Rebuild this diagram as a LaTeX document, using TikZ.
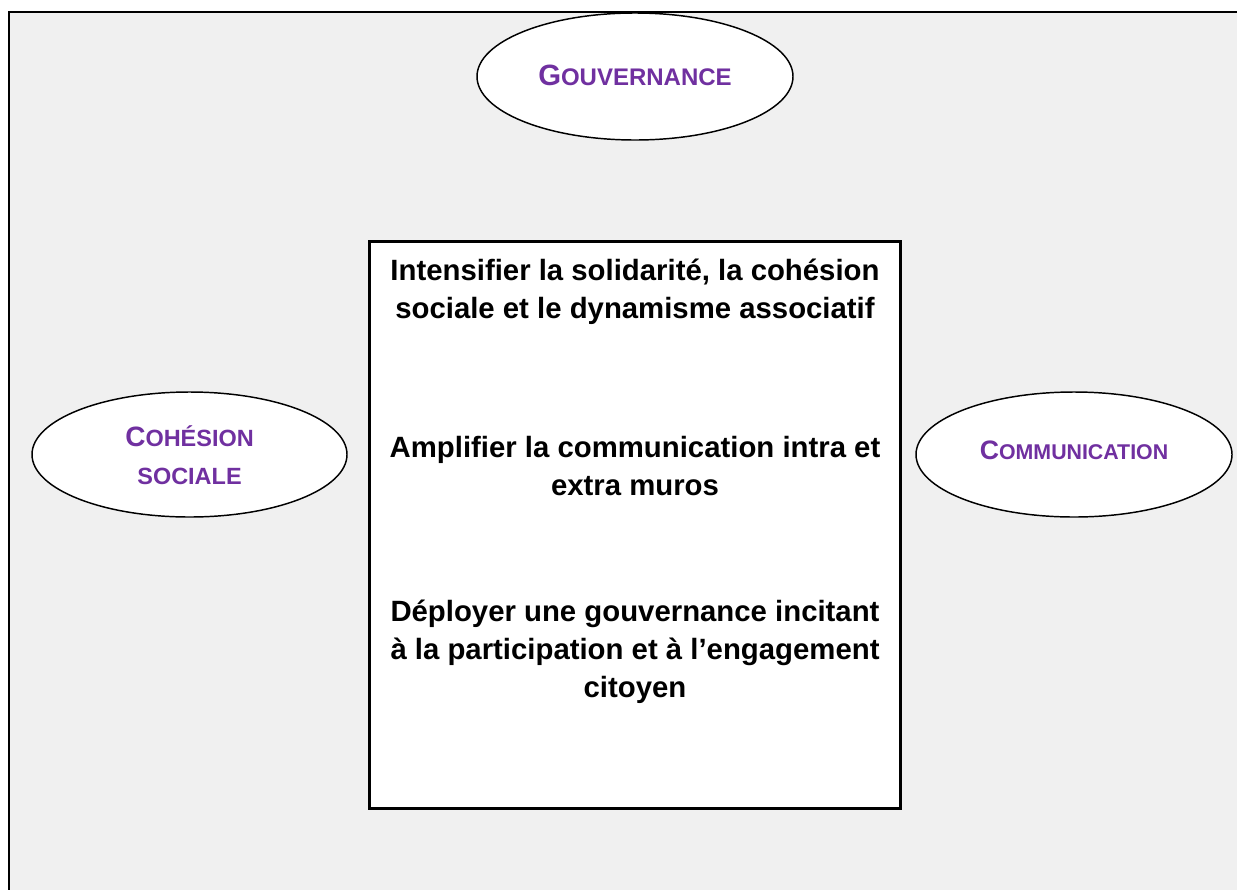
\documentclass[tikz,border=0pt]{standalone}
\usepackage{fontspec}
\setmainfont{Liberation Sans}
\usetikzlibrary{shapes.geometric}
\definecolor{violettitre}{RGB}{112,48,160}
\definecolor{fondgris}{RGB}{240,240,240}
\tikzset{every picture/.style={line width=0.75pt}}

\begin{document}
\begin{tikzpicture}[x=0.75pt,y=0.75pt,yscale=-1,
  bulle/.style={draw,ellipse,fill=white,line width=1.1pt,inner sep=0pt},
  titre/.style={text=violettitre,font=\bfseries\fontsize{17.6}{28.5}\selectfont,align=center,inner sep=0pt},
  objectif/.style={font=\bfseries\fontsize{22}{28.5}\selectfont,align=center,inner sep=0pt}]
\useasboundingbox (0,0) rectangle (1237,889);
\clip (0,0) rectangle (1237,889);

%Shape: Rectangle [id:cadre]
\draw [fill=fondgris,line width=1.5pt] (9,12) rectangle (1260,910) ;

%Shape: Ellipse [id:gouvernance]
\node [bulle,minimum width=237pt,minimum height=95.25pt] (gouv) at (635,76.5) {};
%Shape: Ellipse [id:cohesion]
\node [bulle,minimum width=236.25pt,minimum height=93.75pt] (cohesion) at (189.5,454.5) {};
%Shape: Ellipse [id:communication]
\node [bulle,minimum width=237pt,minimum height=93.75pt] (comm) at (1074,454.5) {};

%Shape: Rectangle [id:objectifs]
\node [draw,fill=white,line width=2.25pt,minimum width=398.25pt,minimum height=425.25pt,inner sep=0pt] (objectifs) at (634.5,524.5) {};

% Text Node
\node [titre] (t_gouv) at (635,75) {{\fontsize{22}{22}\selectfont G}{\fontsize{18}{18}\selectfont OUVERNANCE}};
% Text Node
\node [titre] (t_cohesion) at (189.5,455) {{\fontsize{21}{21}\selectfont C}OHÉSION\\SOCIALE};
% Text Node
\node [titre] (t_comm) at (1074,450) {{\fontsize{20}{20}\selectfont C}{\fontsize{16}{16}\selectfont OMMUNICATION}};

% Text Node
\node [objectif] (obj1) at (635,292) {Intensifier la solidarité, la cohésion\\sociale et le dynamisme associatif};
% Text Node
\node [objectif] (obj2) at (635,466) {Amplifier la communication intra et\\extra muros};
% Text Node
\node [objectif] (obj3) at (635,652) {Déployer une gouvernance incitant\\à la participation et à l’engagement\\citoyen};

\end{tikzpicture}
\end{document}
